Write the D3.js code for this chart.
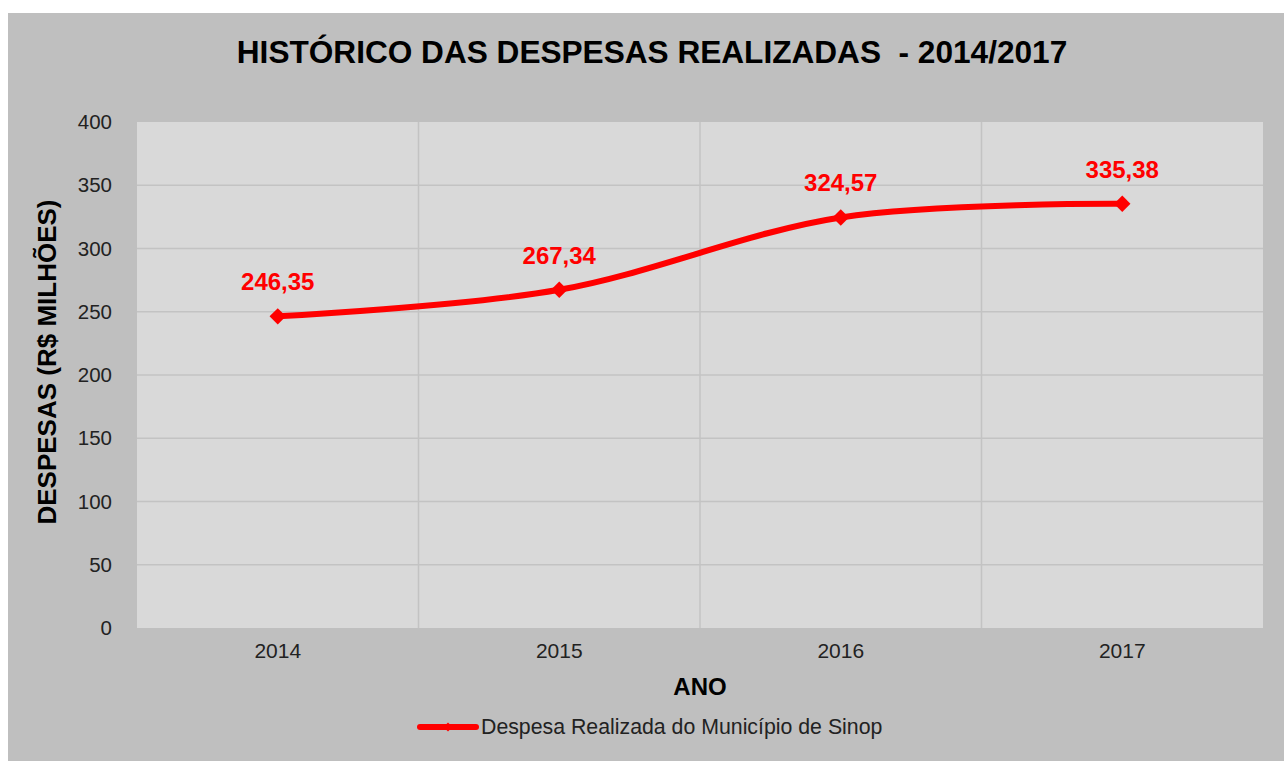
<!DOCTYPE html>
<html>
<head>
<meta charset="utf-8">
<script src="https://cdn.jsdelivr.net/npm/d3@7"></script>
<style>
  body { margin: 0; background: #fff; }
  svg { display: block; font-family: "Liberation Sans", Arial, sans-serif; }
</style>
</head>
<body>
<div id="chart"></div>
<script>
// data
const anos = ["2014", "2015", "2016", "2017"];
const despesas = [246.35, 267.34, 324.57, 335.38];
const rotulos = ["246,35", "267,34", "324,57", "335,38"];
const yTicks = [0, 50, 100, 150, 200, 250, 300, 350, 400];

const width = 1284, height = 761;
const plot = { left: 137, right: 1263, top: 122, bottom: 628 };

const svg = d3.select("#chart")
    .append("svg")
    .attr("width", width)
    .attr("height", height);

// outer chart area
svg.append("rect")
    .attr("x", 8).attr("y", 13)
    .attr("width", width - 8).attr("height", height - 13)
    .attr("fill", "#bfbfbf");

// plot area
svg.append("rect")
    .attr("x", plot.left).attr("y", plot.top)
    .attr("width", plot.right - plot.left).attr("height", plot.bottom - plot.top)
    .attr("fill", "#d9d9d9");

const x = d3.scaleBand()
    .domain(anos)
    .range([plot.left, plot.right])
    .padding(0);

const y = d3.scaleLinear()
    .domain([0, 400])
    .range([plot.bottom, plot.top]);

const cx = d => x(d) + x.bandwidth() / 2;

// horizontal gridlines
svg.append("g")
    .selectAll("line")
    .data(yTicks.filter(t => t > 0 && t < 400))
    .enter().append("line")
    .attr("x1", plot.left).attr("x2", plot.right)
    .attr("y1", d => y(d)).attr("y2", d => y(d))
    .attr("stroke", "#c3c3c3")
    .attr("stroke-width", 1.5);

// vertical gridlines between categories
svg.append("g")
    .selectAll("line")
    .data(anos.slice(1))
    .enter().append("line")
    .attr("x1", d => x(d)).attr("x2", d => x(d))
    .attr("y1", plot.top).attr("y2", plot.bottom)
    .attr("stroke", "#c3c3c3")
    .attr("stroke-width", 1.5);

// y axis
const yAxis = svg.append("g")
    .attr("transform", `translate(${plot.left},0)`)
    .call(d3.axisLeft(y).tickValues(yTicks).tickSize(0).tickPadding(25));
yAxis.select(".domain").remove();
yAxis.selectAll("text")
    .attr("fill", "#222")
    .style("font-size", "20.5px");

// x axis
const xAxis = svg.append("g")
    .attr("transform", `translate(0,${plot.bottom})`)
    .call(d3.axisBottom(x).tickSize(0).tickPadding(15));
xAxis.select(".domain").remove();
xAxis.selectAll("text")
    .attr("fill", "#222")
    .style("font-size", "21px");

// title
svg.append("text")
    .attr("x", 652)
    .attr("y", 63)
    .attr("text-anchor", "middle")
    .style("font-size", "31.6px")
    .style("font-weight", "bold")
    .attr("fill", "#000")
    .attr("xml:space", "preserve")
    .text("HISTÓRICO DAS DESPESAS REALIZADAS  - 2014/2017");

// axis titles
svg.append("text")
    .attr("transform", "translate(56,362) rotate(-90)")
    .attr("text-anchor", "middle")
    .style("font-size", "26px")
    .style("font-weight", "bold")
    .attr("fill", "#000")
    .text("DESPESAS (R$ MILHÕES)");

svg.append("text")
    .attr("x", 700)
    .attr("y", 695)
    .attr("text-anchor", "middle")
    .style("font-size", "24px")
    .style("font-weight", "bold")
    .attr("fill", "#000")
    .text("ANO");

// the line
const data = anos.map((a, i) => ({ ano: a, valor: despesas[i], rotulo: rotulos[i] }));

const line = d3.line()
    .x(d => cx(d.ano))
    .y(d => y(d.valor))
    .curve(d3.curveCardinal);

svg.append("path")
    .datum(data)
    .attr("d", line)
    .attr("fill", "none")
    .attr("stroke", "#ff0000")
    .attr("stroke-width", 6)
    .attr("stroke-linecap", "round");

const diamond = d3.symbol(d3.symbolSquare, 135);

svg.append("g")
    .selectAll("path")
    .data(data)
    .enter().append("path")
    .attr("d", diamond)
    .attr("transform", d => `translate(${cx(d.ano)},${y(d.valor)}) rotate(45)`)
    .attr("fill", "#ff0000");

// data labels
svg.append("g")
    .selectAll("text")
    .data(data)
    .enter().append("text")
    .attr("x", d => cx(d.ano))
    .attr("y", d => y(d.valor) - 26)
    .attr("text-anchor", "middle")
    .style("font-size", "24px")
    .style("font-weight", "bold")
    .attr("fill", "#ff0000")
    .text(d => d.rotulo);

// legend
const legend = svg.append("g");
legend.append("line")
    .attr("x1", 420).attr("x2", 476)
    .attr("y1", 727).attr("y2", 727)
    .attr("stroke", "#ff0000")
    .attr("stroke-width", 6)
    .attr("stroke-linecap", "round");
legend.append("path")
    .attr("d", d3.symbol(d3.symbolSquare, 40))
    .attr("transform", "translate(448,727) rotate(45)")
    .attr("fill", "#ff0000");
legend.append("text")
    .attr("x", 481)
    .attr("y", 734)
    .style("font-size", "21.3px")
    .attr("fill", "#222")
    .text("Despesa Realizada do Município de Sinop");
</script>
</body>
</html>
